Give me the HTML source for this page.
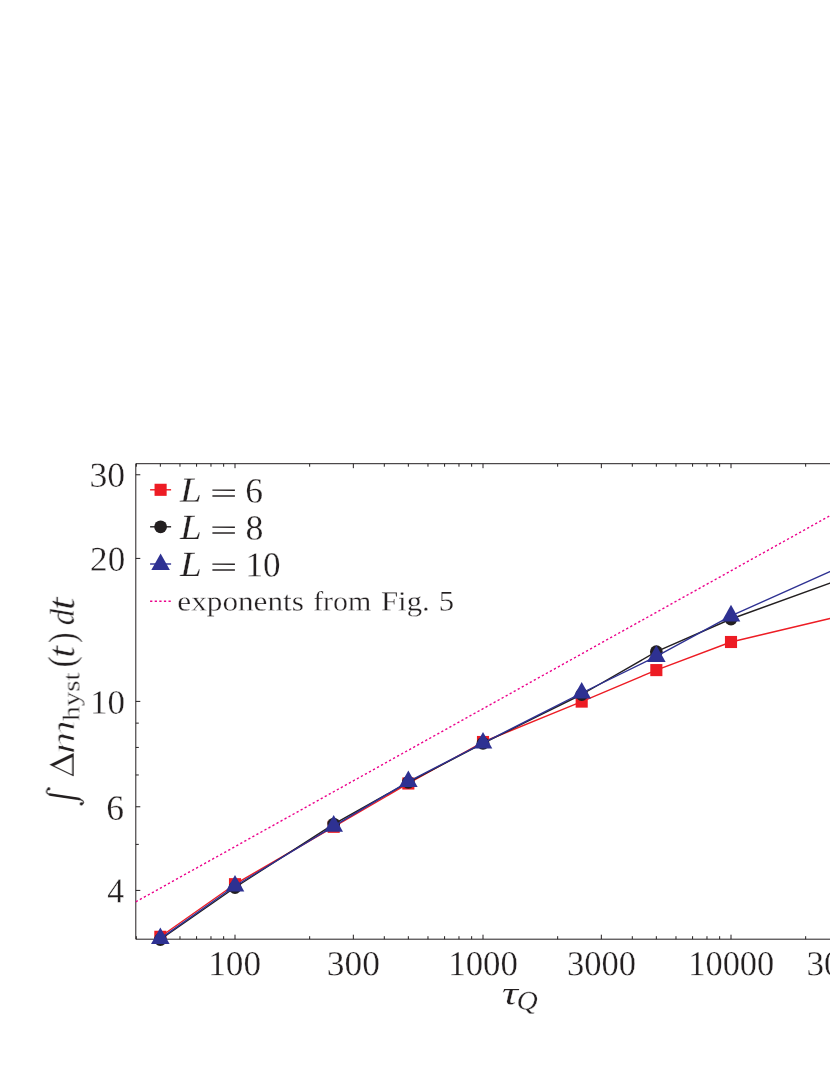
<!DOCTYPE html>
<html><head><meta charset="utf-8"><title>Integrated hysteresis vs quench time</title>
<style>
html,body{margin:0;padding:0;background:#fff;}
body{width:830px;height:1075px;overflow:hidden;}
svg{display:block;}
svg text{font-family:"Liberation Serif",serif;font-kerning:none;font-variant-ligatures:none;white-space:pre;}
</style></head><body>
<svg width="830" height="1075" viewBox="0 0 830 1075">
<rect width="830" height="1075" fill="#fff"/>
<g opacity="0.999">
<g stroke="#231f20" stroke-width="1.0" fill="none" stroke-linecap="butt">
<path d="M135.80 463.70 H860.00 V939.20 H135.80 Z"/>
<path d="M136.31 939.20v-3.00M136.31 463.70v3.00M160.34 939.20v-3.00M160.34 463.70v3.00M179.98 939.20v-3.00M179.98 463.70v3.00M196.58 939.20v-3.00M196.58 463.70v3.00M210.97 939.20v-3.00M210.97 463.70v3.00M223.65 939.20v-3.00M223.65 463.70v3.00M235.00 939.20v-4.50M235.00 463.70v4.50M309.66 939.20v-3.00M309.66 463.70v3.00M353.33 939.20v-4.50M353.33 463.70v4.50M384.31 939.20v-3.00M384.31 463.70v3.00M408.34 939.20v-3.00M408.34 463.70v3.00M427.98 939.20v-3.00M427.98 463.70v3.00M444.58 939.20v-3.00M444.58 463.70v3.00M458.97 939.20v-3.00M458.97 463.70v3.00M471.65 939.20v-3.00M471.65 463.70v3.00M483.00 939.20v-4.50M483.00 463.70v4.50M557.66 939.20v-3.00M557.66 463.70v3.00M601.33 939.20v-4.50M601.33 463.70v4.50M632.31 939.20v-3.00M632.31 463.70v3.00M656.34 939.20v-3.00M656.34 463.70v3.00M675.98 939.20v-3.00M675.98 463.70v3.00M692.58 939.20v-3.00M692.58 463.70v3.00M706.97 939.20v-3.00M706.97 463.70v3.00M719.65 939.20v-3.00M719.65 463.70v3.00M731.00 939.20v-4.50M731.00 463.70v4.50M805.66 939.20v-3.00M805.66 463.70v3.00M849.33 939.20v-4.50M849.33 463.70v4.50M880.31 939.20v-3.00M880.31 463.70v3.00M135.80 890.42h4.50M135.80 844.39h3.00M135.80 806.78h4.50M135.80 774.98h3.00M135.80 747.43h3.00M135.80 723.13h3.00M135.80 701.40h4.50M135.80 558.41h4.50M135.80 474.77h4.50"/>
</g>
<path d="M135.80 901.8L850 504.6" fill="none" stroke="#ec008c" stroke-width="1.4" stroke-dasharray="2.25 2.35"/>
<polyline points="160.34,936.80 235.00,884.20 333.69,826.80 408.34,783.50 483.00,742.00 581.69,701.60 656.34,670.10 731.00,642.00 850,613.70" fill="none" stroke="#ed1c24" stroke-width="1.40" stroke-linejoin="round"/>
<rect x="154.29" y="930.75" width="12.1" height="12.1" fill="#ed1c24"/>
<rect x="228.95" y="878.15" width="12.1" height="12.1" fill="#ed1c24"/>
<rect x="327.64" y="820.75" width="12.1" height="12.1" fill="#ed1c24"/>
<rect x="402.29" y="777.45" width="12.1" height="12.1" fill="#ed1c24"/>
<rect x="476.95" y="735.95" width="12.1" height="12.1" fill="#ed1c24"/>
<rect x="575.64" y="695.55" width="12.1" height="12.1" fill="#ed1c24"/>
<rect x="650.29" y="664.05" width="12.1" height="12.1" fill="#ed1c24"/>
<rect x="724.95" y="635.95" width="12.1" height="12.1" fill="#ed1c24"/>
<polyline points="160.34,939.50 235.00,887.50 333.69,824.10 408.34,782.30 483.00,743.30 581.69,694.50 656.34,651.70 731.00,619.00 850,575.90" fill="none" stroke="#231f20" stroke-width="1.40" stroke-linejoin="round"/>
<circle cx="160.34" cy="939.50" r="6.4" fill="#231f20"/>
<circle cx="235.00" cy="887.50" r="6.4" fill="#231f20"/>
<circle cx="333.69" cy="824.10" r="6.4" fill="#231f20"/>
<circle cx="408.34" cy="782.30" r="6.4" fill="#231f20"/>
<circle cx="483.00" cy="743.30" r="6.4" fill="#231f20"/>
<circle cx="581.69" cy="694.50" r="6.4" fill="#231f20"/>
<circle cx="656.34" cy="651.70" r="6.4" fill="#231f20"/>
<circle cx="731.00" cy="619.00" r="6.4" fill="#231f20"/>
<polyline points="160.34,938.60 235.00,886.00 333.69,826.20 408.34,781.60 483.00,743.10 581.69,693.00 656.34,656.40 731.00,615.90 850,562.60" fill="none" stroke="#2e3192" stroke-width="1.40" stroke-linejoin="round"/>
<path d="M160.34 927.50L169.64 944.10H151.04Z" fill="#2e3192"/>
<path d="M235.00 874.90L244.30 891.50H225.70Z" fill="#2e3192"/>
<path d="M333.69 815.10L342.99 831.70H324.39Z" fill="#2e3192"/>
<path d="M408.34 770.50L417.64 787.10H399.04Z" fill="#2e3192"/>
<path d="M483.00 732.00L492.30 748.60H473.70Z" fill="#2e3192"/>
<path d="M581.69 681.90L590.99 698.50H572.39Z" fill="#2e3192"/>
<path d="M656.34 645.30L665.64 661.90H647.04Z" fill="#2e3192"/>
<path d="M731.00 604.80L740.30 621.40H721.70Z" fill="#2e3192"/>
<path d="M150.1 489.80H171.1" stroke="#ed1c24" stroke-width="1.40" fill="none"/>
<rect x="154.55" y="483.75" width="12.1" height="12.1" fill="#ed1c24"/>
<path d="M150.1 526.80H171.1" stroke="#231f20" stroke-width="1.40" fill="none"/>
<circle cx="160.60" cy="526.80" r="6.4" fill="#231f20"/>
<path d="M150.1 564.00H171.1" stroke="#2e3192" stroke-width="1.40" fill="none"/>
<path d="M160.60 553.40L169.90 570.00H151.30Z" fill="#2e3192"/>
<path d="M150.1 601.3H171.1" stroke="#ec008c" stroke-width="1.4" stroke-dasharray="2.25 2.35" fill="none"/>
<text transform="translate(179.91 501.85) rotate(0.03) scale(1.1116 1)" font-size="35.43" font-style="italic" fill="#231f20" stroke="#fff" stroke-width="0.30" vector-effect="non-scaling-stroke">L</text>
<text transform="translate(209.99 502.75) rotate(0.03) scale(1.6559 1)" font-size="29.20" fill="#231f20">=</text>
<text transform="translate(245.22 502.50) rotate(0.03) scale(1.0043 1)" font-size="35.42" fill="#231f20" stroke="#fff" stroke-width="0.30" vector-effect="non-scaling-stroke">6</text>
<text transform="translate(179.91 538.90) rotate(0.03) scale(1.1116 1)" font-size="35.43" font-style="italic" fill="#231f20" stroke="#fff" stroke-width="0.30" vector-effect="non-scaling-stroke">L</text>
<text transform="translate(209.99 539.80) rotate(0.03) scale(1.6559 1)" font-size="29.20" fill="#231f20">=</text>
<text transform="translate(245.38 539.56) rotate(0.03) scale(1.0168 1)" font-size="35.27" fill="#231f20" stroke="#fff" stroke-width="0.30" vector-effect="non-scaling-stroke">8</text>
<text transform="translate(179.91 575.95) rotate(0.03) scale(1.1116 1)" font-size="35.43" font-style="italic" fill="#231f20" stroke="#fff" stroke-width="0.30" vector-effect="non-scaling-stroke">L</text>
<text transform="translate(209.99 576.85) rotate(0.03) scale(1.6559 1)" font-size="29.20" fill="#231f20">=</text>
<text transform="translate(245.46 576.61) rotate(0.03) scale(0.9959 1)" font-size="35.27" fill="#231f20" stroke="#fff" stroke-width="0.30" vector-effect="non-scaling-stroke">10</text>
<text transform="translate(177.33 610.47) rotate(0.03) scale(1.1232 1)" font-size="27.79" fill="#231f20" stroke="#fff" stroke-width="0.30" vector-effect="non-scaling-stroke">exponents</text>
<text transform="translate(313.13 610.55) rotate(0.03) scale(1.0741 1)" font-size="27.82" fill="#231f20" stroke="#fff" stroke-width="0.30" vector-effect="non-scaling-stroke">from</text>
<text transform="translate(380.96 610.48) rotate(0.03) scale(1.1110 1)" font-size="27.74" fill="#231f20" stroke="#fff" stroke-width="0.30" vector-effect="non-scaling-stroke">Fig.</text>
<text transform="translate(438.86 610.55) rotate(0.03) scale(1.0819 1)" font-size="28.45" fill="#231f20" stroke="#fff" stroke-width="0.30" vector-effect="non-scaling-stroke">5</text>
<text transform="translate(89.54 486.71) rotate(0.03) scale(1.0155 1)" font-size="35.12" fill="#231f20" stroke="#fff" stroke-width="0.30" vector-effect="non-scaling-stroke">30</text>
<text transform="translate(90.11 570.71) rotate(0.03) scale(1.0073 1)" font-size="34.82" fill="#231f20" stroke="#fff" stroke-width="0.30" vector-effect="non-scaling-stroke">20</text>
<text transform="translate(89.98 713.82) rotate(0.03) scale(1.0194 1)" font-size="34.23" fill="#231f20" stroke="#fff" stroke-width="0.30" vector-effect="non-scaling-stroke">10</text>
<text transform="translate(106.32 819.70) rotate(0.03) scale(1.0001 1)" font-size="35.57" fill="#231f20" stroke="#fff" stroke-width="0.30" vector-effect="non-scaling-stroke">6</text>
<text transform="translate(107.19 902.55) rotate(0.03) scale(0.9604 1)" font-size="34.94" fill="#231f20" stroke="#fff" stroke-width="0.30" vector-effect="non-scaling-stroke">4</text>
<text transform="translate(208.25 975.31) rotate(0.03) scale(1.0030 1)" font-size="35.12" fill="#231f20" stroke="#fff" stroke-width="0.30" vector-effect="non-scaling-stroke">100</text>
<text transform="translate(326.85 975.31) rotate(0.03) scale(1.0088 1)" font-size="35.12" fill="#231f20" stroke="#fff" stroke-width="0.30" vector-effect="non-scaling-stroke">300</text>
<text transform="translate(448.29 975.31) rotate(0.03) scale(0.9921 1)" font-size="35.12" fill="#231f20" stroke="#fff" stroke-width="0.30" vector-effect="non-scaling-stroke">1000</text>
<text transform="translate(566.90 975.31) rotate(0.03) scale(0.9833 1)" font-size="35.12" fill="#231f20" stroke="#fff" stroke-width="0.30" vector-effect="non-scaling-stroke">3000</text>
<text transform="translate(688.33 975.31) rotate(0.03) scale(0.9787 1)" font-size="35.12" fill="#231f20" stroke="#fff" stroke-width="0.30" vector-effect="non-scaling-stroke">10000</text>
<text transform="translate(806.48 975.31) rotate(0.03) scale(0.9966 1)" font-size="35.12" fill="#231f20" stroke="#fff" stroke-width="0.30" vector-effect="non-scaling-stroke">30000</text>
<text transform="translate(501.85 1004.32) rotate(0.03) scale(1.3534 1)" font-size="33.49" font-style="italic" fill="#231f20" stroke="#fff" stroke-width="0.30" vector-effect="non-scaling-stroke">τ</text>
<text transform="translate(516.42 1009.52) rotate(0.03) scale(1.1035 1)" font-size="26.69" font-style="italic" fill="#231f20" stroke="#fff" stroke-width="0.30" vector-effect="non-scaling-stroke">Q</text>
<g transform="translate(73.70 0) rotate(-90)">
<g transform="translate(-805.4 0)" fill="none" stroke="#231f20" stroke-linecap="round" stroke-linejoin="round">
<path d="M1.4 8.3C1.8 9.8 3.9 10.3 5.0 8.5C6.0 6.8 6.4 5.4 6.7 4.0L10.6 -22.3C10.9 -24.4 11.7 -27.0 13.5 -27.1C14.8 -27.2 15.9 -26.5 16.5 -25.4" stroke-width="1.2"/>
<path d="M6.35 5.6L6.7 4.0L10.6 -22.3L10.95 -23.9" stroke-width="2.5"/>
<circle cx="1.5" cy="7.6" r="1.6" fill="#231f20" stroke="none"/>
<circle cx="16.6" cy="-25.0" r="1.6" fill="#231f20" stroke="none"/>
</g>
<path transform="translate(-776.4 0)" fill="#231f20" fill-rule="evenodd" d="M0 0L11.7 -24.2L23.4 0ZM1.9 -1.5L10.6 -19.6L19.3 -1.5Z"/>
<text transform="translate(-754.17 0.45) rotate(0.03) scale(1.3819 1)" font-size="34.38" font-style="italic" fill="#231f20" stroke="#fff" stroke-width="0.90" vector-effect="non-scaling-stroke">m</text>
<text transform="translate(-720.83 5.48) rotate(0.03) scale(1.2104 1)" font-size="23.96" fill="#231f20" stroke="#fff" stroke-width="0.30" vector-effect="non-scaling-stroke">hyst</text>
<text transform="translate(-667.54 0.55) rotate(0.03) scale(0.8903 1)" font-size="38.05" fill="#231f20" stroke="#fff" stroke-width="0.30" vector-effect="non-scaling-stroke">(</text>
<text transform="translate(-657.97 0.17) rotate(0.03) scale(1.1381 1)" font-size="38.41" font-style="italic" fill="#231f20" stroke="#fff" stroke-width="0.50" vector-effect="non-scaling-stroke">t</text>
<text transform="translate(-643.07 0.55) rotate(0.03) scale(0.8289 1)" font-size="38.05" fill="#231f20" stroke="#fff" stroke-width="0.30" vector-effect="non-scaling-stroke">)</text>
<text transform="translate(-625.14 0.10) rotate(0.03) scale(0.9450 1)" font-size="34.51" font-style="italic" fill="#231f20" stroke="#fff" stroke-width="0.30" vector-effect="non-scaling-stroke">d</text>
<text transform="translate(-610.17 0.17) rotate(0.03) scale(1.1997 1)" font-size="38.41" font-style="italic" fill="#231f20" stroke="#fff" stroke-width="0.50" vector-effect="non-scaling-stroke">t</text>
</g>
</g>
</svg>
</body></html>
